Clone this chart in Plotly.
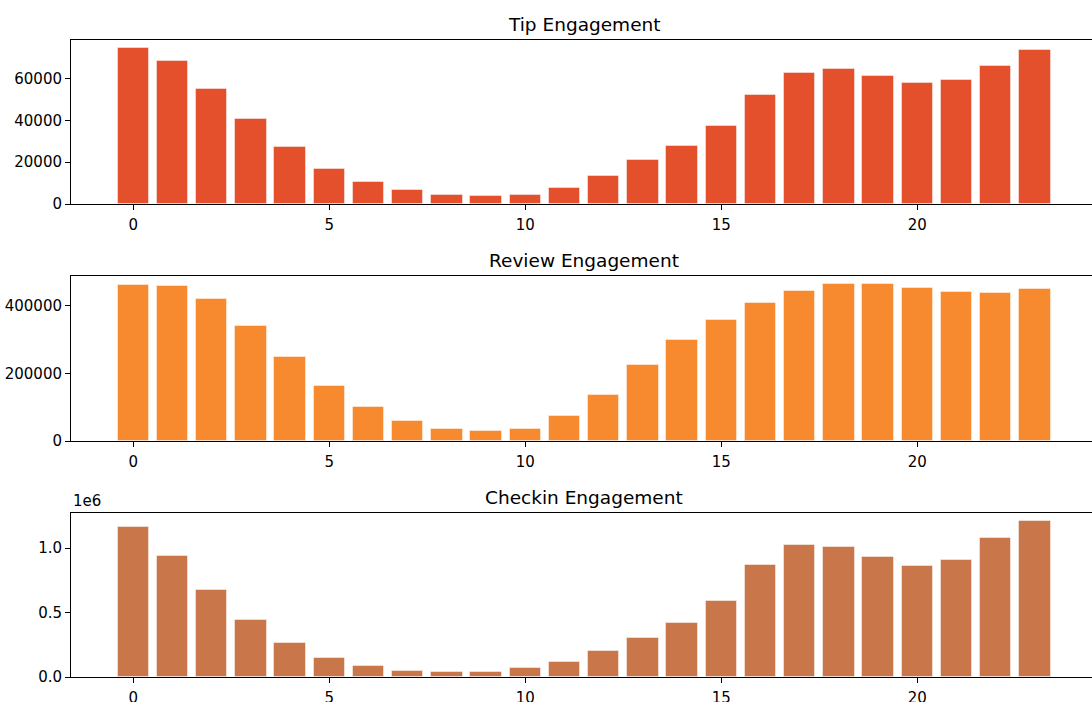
import plotly.graph_objects as go

hours = list(range(24))
tip_values = [74800, 68400, 55100, 40700, 27400, 16900, 10700, 6700, 4300, 3700, 4300, 7600,
              13500, 21000, 28000, 37200, 52200, 62700, 64500, 61400, 58100, 59200, 66100, 73700]
review_values = [461000, 458000, 419000, 340000, 250000, 162000, 102000, 58000, 37000, 30000, 37000, 73000,
                 135000, 224000, 300000, 357000, 409000, 444000, 465000, 465000, 454000, 441000, 437000, 450000]
checkin_values = [1162000, 938000, 678000, 443000, 265000, 149000, 85000, 49000, 39000, 39000, 67000, 113000,
                  198000, 302000, 415000, 593000, 871000, 1023000, 1005000, 930000, 863000, 910000, 1080000, 1211000]
titles = ["Tip Engagement", "Review Engagement", "Checkin Engagement"]
colors = ["#e4502b", "#f78a2f", "#c9764a"]
x_ticks = [0, 5, 10, 15, 20]
tip_tickvals = [0, 20000, 40000, 60000]
review_tickvals = [0, 200000, 400000]
checkin_tickvals = [0, 500000, 1000000]
checkin_ticktext = ["0.0", "0.5", "1.0"]

W, H = 1092, 702
left_px = 71
# axes vertical extents in pixels (top, bottom)
axes_px = [(40, 204), (276, 441), (513, 677)]

FONT = "DejaVu Sans"
fig = go.Figure()
series = [tip_values, review_values, checkin_values]
yticks = [tip_tickvals, review_tickvals, checkin_tickvals]

x_lo = -0.4 - 0.05 * 23.8
x_hi = x_lo + (W - left_px) / 39.2
title_x = 584 / W

for i, (vals, col) in enumerate(zip(series, colors)):
    n = i + 1
    xa = "x" if n == 1 else f"x{n}"
    ya = "y" if n == 1 else f"y{n}"
    fig.add_trace(go.Bar(x=hours, y=vals, width=0.8,
                         marker=dict(color=col, line=dict(color="rgba(255,255,255,0.45)", width=1)),
                         xaxis=xa, yaxis=ya, showlegend=False))
    top, bot = axes_px[i]
    dom = [1 - bot / H, 1 - top / H]
    xkey = "xaxis" if n == 1 else f"xaxis{n}"
    ykey = "yaxis" if n == 1 else f"yaxis{n}"
    ymax = max(vals) * 1.05
    fig.layout[xkey] = dict(domain=[left_px / W, 1], anchor=ya, range=[x_lo, x_hi], automargin=False,
                            tickvals=x_ticks, ticks="outside", ticklen=5, tickwidth=1, tickcolor="black",
                            showline=True, linecolor="black", linewidth=1, mirror=True,
                            showgrid=False, zeroline=False, ticklabelstandoff=2,
                            tickfont=dict(family=FONT, size=15, color="black"))
    yax = dict(domain=dom, anchor=xa, range=[0, ymax], automargin=False, tickvals=yticks[i],
               ticks="outside", ticklen=5, tickwidth=1,
               tickcolor="black", showline=True, linecolor="black", linewidth=1,
               showgrid=False, zeroline=False, tickformat="d",
               tickfont=dict(family=FONT, size=15, color="black"))
    if n == 3:
        yax.update(ticktext=checkin_ticktext)
    fig.layout[ykey] = yax
    fig.add_annotation(text=titles[i], xref="paper", yref="paper", x=title_x,
                       y=1 - top / H, xanchor="center", yanchor="bottom", yshift=3, showarrow=False,
                       font=dict(family=FONT, size=18.5, color="black"))

fig.add_annotation(text="1e6", xref="paper", yref="paper", x=left_px / W, y=1 - axes_px[2][0] / H,
                   xanchor="left", yanchor="bottom", yshift=1, showarrow=False,
                   font=dict(family=FONT, size=15, color="black"))

fig.update_layout(width=W, height=H, margin=dict(l=0, r=0, t=0, b=0, autoexpand=False),
                  plot_bgcolor="white", paper_bgcolor="white", bargap=0)
fig.write_html("out.html", config={"displayModeBar": False},
               post_script="document.body.style.margin='0';document.body.style.overflow='hidden';")
